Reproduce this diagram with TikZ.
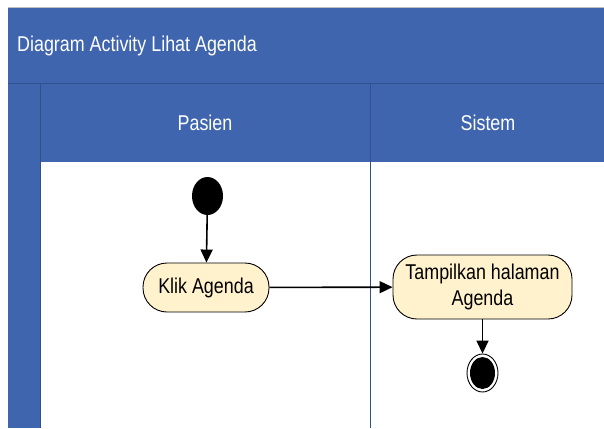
\documentclass[tikz,border=0pt]{standalone}
\usepackage{fontspec}
\setmainfont{Liberation Sans}[FakeStretch=0.835]
\usetikzlibrary{arrows.meta,shapes.geometric}
\definecolor{laneblue}{RGB}{63,101,174}
\definecolor{laneedge}{RGB}{47,82,143}
\definecolor{actfill}{RGB}{255,242,204}
\begin{document}
\begin{tikzpicture}[x=1bp,y=-1bp,
  hdr/.style={font=\fontsize{21.5}{24}\selectfont, text=white, inner sep=0},
  act/.style={draw=black, line width=0.9bp, fill=actfill, rounded corners=24bp,
    align=center, font=\fontsize{21.5}{27}\selectfont, inner sep=0},
  flow/.style={line width=1.6bp, -{Triangle[length=13bp,width=12bp]}}]
\useasboundingbox (0,0) rectangle (604,428);
\fill[white] (0,0) rectangle (604,428);
% pool: title band, lane headers and left strip
\fill[laneblue] (8,8) rectangle (604,162);
\fill[laneblue] (8,162) rectangle (40,428);
\draw[gray!50, line width=0.8bp] (8,7.6) -- (604,7.6);
\draw[laneedge, line width=1bp] (8,83) -- (604,83);
\draw[laneedge, line width=0.8bp] (40,83) -- (40,428);
\draw[laneedge, line width=1bp] (370,83) -- (370,428);
\node[hdr, anchor=west] (title) at (17,46) {Diagram Activity Lihat Agenda};
\node[hdr] (pasien) at (205,123) {Pasien};
\node[hdr] (sistem) at (488,123) {Sistem};
% activities
\node[ellipse, fill=black, minimum width=31bp, minimum height=38bp, inner sep=0] (start) at (207.5,196) {};
\node[act, minimum width=126bp, minimum height=49bp] (klik) at (206,287.5) {Klik Agenda};
\node[act, minimum width=179bp, minimum height=64bp] (tampil) at (482.5,287) {Tampilkan halaman\\Agenda};
\node[ellipse, draw=black, fill=white, line width=0.9bp, minimum width=31bp, minimum height=38bp, inner sep=0] (end) at (482.5,373) {};
\node[ellipse, fill=black, minimum width=25bp, minimum height=32bp, inner sep=0] (endcore) at (end.center) {};
% control flow
\draw[flow] (start) -- (klik);
\draw[flow] (klik) -- (tampil);
\draw[flow] (tampil) -- (end);
\end{tikzpicture}
\end{document}
